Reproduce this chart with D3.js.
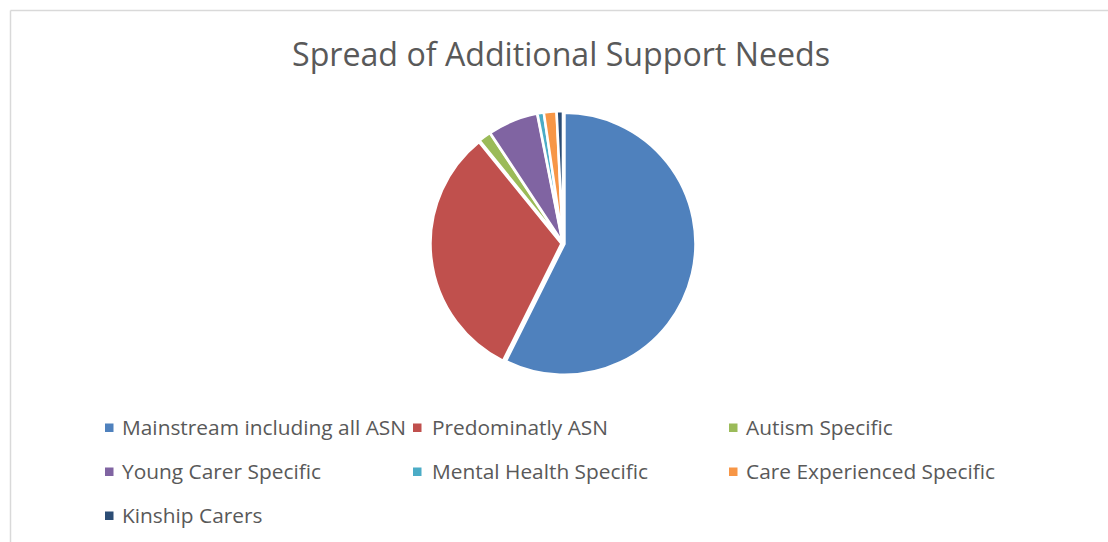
<!DOCTYPE html>
<html>
<head>
<meta charset="utf-8">
<script src="https://cdn.jsdelivr.net/npm/d3@7"></script>
<style>
  html, body { margin: 0; padding: 0; background: #fff; }
  svg { display: block; }
</style>
</head>
<body>
<svg id="chart" width="1108" height="542"></svg>
<script>
const title = "Spread of Additional Support Needs";
const categories = [
  "Mainstream including all ASN",
  "Predominatly ASN",
  "Autism Specific",
  "Young Carer Specific",
  "Mental Health Specific",
  "Care Experienced Specific",
  "Kinship Carers"
];
const values = [74, 41, 2, 8, 1, 2, 1];
const colors = ["#4F81BD", "#C0504D", "#9BBB59", "#8064A2", "#4BACC6", "#F79646", "#2C4D75"];

const svg = d3.select("#chart");
const W = 1108, H = 542;
const font = "'Open Sans', 'DejaVu Sans', sans-serif";
const textColor = "#595959";

// chart area border (top and left visible)
svg.append("line").attr("x1", 10.5).attr("y1", 10.5).attr("x2", W).attr("y2", 10.5)
  .attr("stroke", "#d9d9d9").attr("stroke-width", 1.5);
svg.append("line").attr("x1", 10.5).attr("y1", 10.5).attr("x2", 10.5).attr("y2", H)
  .attr("stroke", "#d9d9d9").attr("stroke-width", 1.5);

// title
const t = svg.append("text")
  .attr("x", 561).attr("y", 65.5)
  .attr("text-anchor", "middle")
  .attr("font-family", font).attr("font-size", 33)
  .attr("fill", textColor)
  .text(title);
const tw = t.node().getComputedTextLength();
t.attr("textLength", 538).attr("lengthAdjust", "spacingAndGlyphs");

// pie
const cx = 563, cy = 243.5, r = 131, explode = 1.5;
const pie = d3.pie().sort(null).value(d => d.v);
const arc = d3.arc().innerRadius(0).outerRadius(r);
const data = categories.map((c, i) => ({ c, v: values[i], col: colors[i] }));
const arcs = pie(data);
const g = svg.append("g").attr("transform", `translate(${cx},${cy})`);
g.selectAll("path").data(arcs).join("path")
  .attr("d", arc)
  .attr("transform", d => {
    const a = (d.startAngle + d.endAngle) / 2;
    return `translate(${Math.sin(a) * explode},${-Math.cos(a) * explode})`;
  })
  .attr("fill", d => d.data.col)
  .attr("stroke", "#fff").attr("stroke-width", 2.5)
  .attr("stroke-linejoin", "miter");

// legend
const colMarkerX = [105, 413, 729];
const colTextX = [122, 432, 746];
const rowBase = [435, 479, 523];
const legendFont = 20.5;
// measure scale factor to mimic original font's width
const probe = svg.append("text").attr("font-family", font).attr("font-size", legendFont).text(categories[0]);
const factor = 284 / probe.node().getComputedTextLength();
probe.remove();

const leg = svg.append("g");
data.forEach((d, i) => {
  const col = i % 3, row = Math.floor(i / 3);
  leg.append("rect")
    .attr("x", colMarkerX[col]).attr("y", rowBase[row] - 11.5)
    .attr("width", 8.5).attr("height", 8.5)
    .attr("fill", d.col);
  const tx = leg.append("text")
    .attr("x", colTextX[col]).attr("y", rowBase[row])
    .attr("font-family", font).attr("font-size", legendFont)
    .attr("fill", textColor)
    .text(d.c);
  const w = tx.node().getComputedTextLength();
  tx.attr("textLength", w * factor).attr("lengthAdjust", "spacingAndGlyphs");
});
</script>
</body>
</html>
